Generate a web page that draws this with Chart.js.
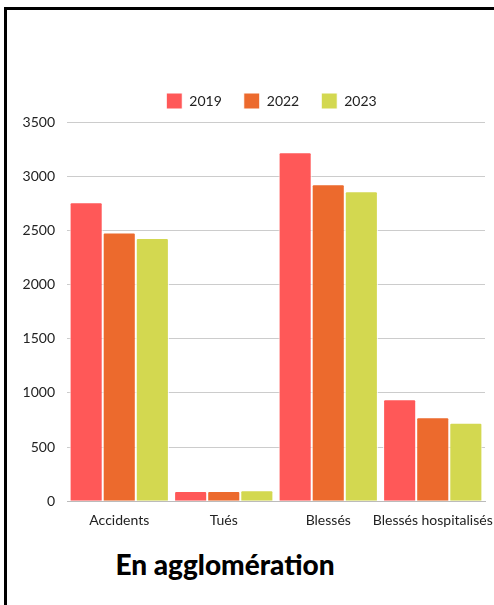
<!DOCTYPE html>
<html>
<head>
<meta charset="utf-8">
<script src="https://cdn.jsdelivr.net/npm/chart.js"></script>
<style>
  html, body { margin: 0; padding: 0; background: #fff; overflow: hidden; }
  body { width: 494px; height: 605px; position: relative; }
  #frame {
    position: absolute; left: 4px; top: 7px; width: 500px; height: 610px;
    border-top: 3px solid #000; border-left: 3px solid #000;
  }
  #wrap { position: absolute; left: 0; top: 0; width: 530px; height: 532px; }
  #title {
    position: absolute; left: 0; width: 450px; top: 547px; text-align: center;
    font-family: Lato, sans-serif; font-weight: 900; font-size: 28px; color: #000;
  }
</style>
</head>
<body>
<div id="frame"></div>
<div id="wrap"><canvas id="chart"></canvas></div>
<div id="title">En agglomération</div>
<script>
const categories = ['Accidents', 'Tués', 'Blessés', 'Blessés hospitalisés'];
const years = ['2019', '2022', '2023'];
const values2019 = [2760, 95, 3220, 940];
const values2022 = [2480, 95, 2925, 775];
const values2023 = [2430, 100, 2860, 725];
const yTicks = [0, 500, 1000, 1500, 2000, 2500, 3000, 3500];
const colors = ['#FF5858', '#EC6A2D', '#D3D850'];

const seriesValues = [values2019, values2022, values2023];

// extra room under the legend, and centre it over the plot
const legendTweak = {
    id: 'legendTweak',
    beforeInit(chart) {
        const fit = chart.legend.fit;
        chart.legend.fit = function () {
            fit.call(this);
            this.height += 3;
        };
    },
    afterLayout(chart) {
        chart.legend.left += 29;
        chart.legend.right += 29;
    }
};

const ctx = document.getElementById('chart').getContext('2d');
const chart = new Chart(ctx, {
    type: 'bar',
    data: {
        labels: categories,
        datasets: years.map((year, i) => ({
            label: year,
            data: seriesValues[i],
            backgroundColor: colors[i],
            borderColor: '#ffffff',
            borderWidth: 1,
            borderRadius: 2,
            borderSkipped: 'bottom',
            barPercentage: 1,
            categoryPercentage: 0.95,
        }))
    },
    plugins: [legendTweak],
    options: {
        responsive: true,
        maintainAspectRatio: false,
        animation: false,
        layout: { padding: { top: 71, right: 45, left: 0, bottom: 0 } },
        plugins: {
            legend: {
                position: 'top',
                labels: {
                    boxWidth: 16,
                    boxHeight: 16,
                    padding: 22,
                    color: '#222',
                    font: { family: 'Lato', size: 14 }
                }
            },
            tooltip: { enabled: false }
        },
        scales: {
            x: {
                grid: { display: false },
                border: { color: '#bbbbbb' },
                ticks: { color: '#222', font: { family: 'Lato', size: 14 }, maxRotation: 0, autoSkip: false }
            },
            y: {
                min: 0,
                max: 3500,
                afterFit: (scale) => { scale.width = 67; },
                afterBuildTicks: (scale) => { scale.ticks = yTicks.map(v => ({ value: v })); },
                grid: { color: '#cccccc', drawTicks: false },
                border: { display: false },
                ticks: {
                    color: '#222', padding: 12, font: { family: 'Lato', size: 14 },
                    callback: (v) => String(v)
                }
            }
        }
    }
});
</script>
</body>
</html>
